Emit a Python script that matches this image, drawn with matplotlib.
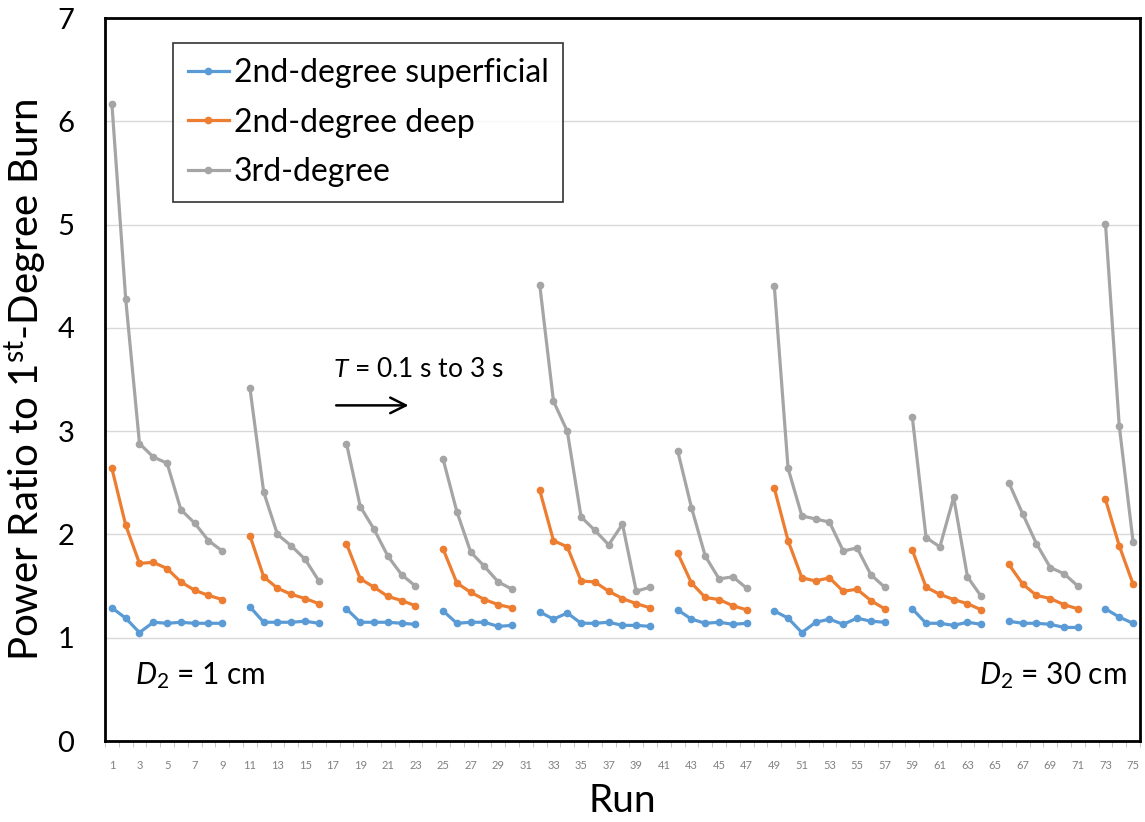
import numpy as np
import matplotlib.pyplot as plt

nan = np.nan

# run numbers 1..75, gaps (nan) separate the groups
runs = np.arange(1, 76)

superficial = [1.29, 1.19, 1.05, 1.15, 1.14, 1.15, 1.14, 1.14, 1.14, nan,
               1.30, 1.15, 1.15, 1.15, 1.16, 1.14, nan,
               1.28, 1.15, 1.15, 1.15, 1.14, 1.13, nan,
               1.26, 1.14, 1.15, 1.15, 1.11, 1.12, nan,
               1.25, 1.18, 1.24, 1.14, 1.14, 1.15, 1.12, 1.12, 1.11, nan,
               1.27, 1.18, 1.14, 1.15, 1.13, 1.14, nan,
               1.26, 1.19, 1.05, 1.15, 1.18, 1.13, 1.19, 1.16, 1.15, nan,
               1.28, 1.14, 1.14, 1.12, 1.15, 1.13, nan,
               1.16, 1.14, 1.14, 1.13, 1.10, 1.10, nan,
               1.28, 1.20, 1.14]

deep = [2.64, 2.09, 1.72, 1.73, 1.67, 1.54, 1.46, 1.41, 1.37, nan,
        1.99, 1.59, 1.48, 1.42, 1.38, 1.33, nan,
        1.91, 1.57, 1.49, 1.40, 1.36, 1.31, nan,
        1.86, 1.53, 1.44, 1.37, 1.32, 1.29, nan,
        2.43, 1.94, 1.88, 1.55, 1.54, 1.45, 1.38, 1.33, 1.29, nan,
        1.82, 1.53, 1.39, 1.37, 1.31, 1.27, nan,
        2.45, 1.94, 1.58, 1.55, 1.58, 1.45, 1.47, 1.36, 1.28, nan,
        1.85, 1.49, 1.42, 1.37, 1.33, 1.27, nan,
        1.71, 1.52, 1.41, 1.38, 1.32, 1.28, nan,
        2.34, 1.89, 1.52]

third = [6.17, 4.28, 2.88, 2.75, 2.69, 2.24, 2.11, 1.94, 1.84, nan,
         3.42, 2.41, 2.00, 1.89, 1.76, 1.55, nan,
         2.88, 2.27, 2.05, 1.79, 1.61, 1.50, nan,
         2.73, 2.22, 1.83, 1.69, 1.54, 1.47, nan,
         4.42, 3.29, 3.00, 2.17, 2.04, 1.90, 2.10, 1.45, 1.49, nan,
         2.81, 2.26, 1.79, 1.57, 1.59, 1.48, nan,
         4.41, 2.64, 2.18, 2.15, 2.12, 1.84, 1.87, 1.61, 1.49, nan,
         3.14, 1.97, 1.88, 2.36, 1.59, 1.40, nan,
         2.50, 2.20, 1.91, 1.68, 1.62, 1.50, nan,
         5.01, 3.05, 1.93]

labels = ['2nd-degree superficial', '2nd-degree deep', '3rd-degree']
colors = ['#5B9BD5', '#ED7D31', '#A5A5A5']

plt.rcParams['font.family'] = ['Lato', 'DejaVu Sans']
plt.rcParams['mathtext.fontset'] = 'custom'
plt.rcParams['mathtext.rm'] = 'Lato'
plt.rcParams['mathtext.it'] = 'Lato:italic'

fig = plt.figure(figsize=(11.45, 8.22), dpi=100)
ax = fig.add_axes([0.0917, 0.0985, 0.9039, 0.8795])

for ys, lab, c in zip([superficial, deep, third], labels, colors):
    ax.plot(runs, ys, color=c, lw=2.3, marker='o', ms=4.5, label=lab)

ax.set_xlim(0.5, 75.5)
ax.set_ylim(0, 7)
ax.set_xticks(runs[::2])
ax.set_xticks(np.arange(0.5, 76, 1), minor=True)
ax.tick_params(axis='x', which='major', length=0, labelsize=8,
               labelcolor='#808080', pad=14)
ax.tick_params(axis='x', which='minor', length=4, color='#bfbfbf',
               direction='out')
ax.tick_params(axis='y', length=0, labelsize=21, pad=22)
ax.grid(axis='y', color='#d9d9d9', lw=1)
ax.set_axisbelow(True)
for s in ax.spines.values():
    s.set_color('black')
    s.set_linewidth(2)

ax.set_xlabel('Run', fontsize=28, labelpad=8)
ax.set_ylabel('Power Ratio to 1$^{\\rm st}$-Degree Burn', fontsize=29, labelpad=6)

leg = ax.legend(loc='upper left', bbox_to_anchor=(0.066, 0.965), fontsize=23,
                frameon=True, fancybox=False, edgecolor='black',
                handlelength=1.3, handletextpad=0.15, labelspacing=0.62,
                borderpad=0.45, borderaxespad=0)
leg.get_frame().set_linewidth(1.2)

ax.text(17.05, 3.60, '$T$ = 0.1 s to 3 s', fontsize=19, va='center', ha='left')
ax.annotate('', xy=(22.7, 3.25), xytext=(17.05, 3.25),
            arrowprops=dict(arrowstyle='->', lw=1.8, color='black',
                            mutation_scale=28))
ax.text(0.029, 0.09, '$D_2$ = 1 cm', fontsize=21.5, va='center', ha='left',
        transform=ax.transAxes)
ax.text(0.987, 0.09, '$D_2$ = 30 cm', fontsize=21.5, va='center', ha='right',
        transform=ax.transAxes)

fig.savefig('out.png', dpi=100)
